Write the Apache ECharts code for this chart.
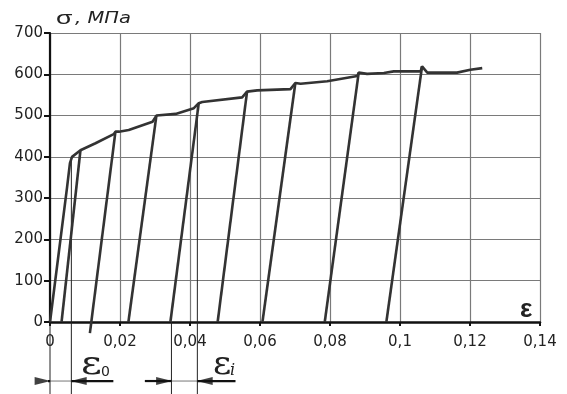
<!DOCTYPE html>
<html><head><meta charset="utf-8">
<script src="https://cdn.jsdelivr.net/npm/echarts@6/dist/echarts.min.js"></script>
<style>html,body{margin:0;padding:0;background:#fff}#c{width:567px;height:394px}</style>
</head><body><div id="c"></div>
<script>
// Tick labels
const xTickValues = [0, 0.02, 0.04, 0.06, 0.08, 0.1, 0.12, 0.14];
const xTickLabels = ['0', '0,02', '0,04', '0,06', '0,08', '0,1', '0,12', '0,14'];
const yTickLabels = ['0', '100', '200', '300', '400', '500', '600', '700'];

// Loading (envelope) curve: strain, stress (MPa)
const loadStrain = [0, 0.0049, 0.0057, 0.0063, 0.0087, 0.0130, 0.0182, 0.0187, 0.0197, 0.0225, 0.0293, 0.0304, 0.0359, 0.0411, 0.0425, 0.0435, 0.0549, 0.0563, 0.0592, 0.0687, 0.0701, 0.0716, 0.0792, 0.0878, 0.0882, 0.0906, 0.0954, 0.0982, 0.1059, 0.1063, 0.1078, 0.1163, 0.1201, 0.1235];
const loadStress = [0, 328, 385, 400, 416, 433, 455, 461, 461, 465, 485, 500, 504, 518, 530, 533, 544, 558, 561, 564, 579, 577, 583, 596, 604, 601, 603, 607, 607, 619, 604, 604, 611, 615];

// Unloading lines: top point -> end point
const unloadTopStrain = [0.0087, 0.0187, 0.0304, 0.0425, 0.0563, 0.0701, 0.0882, 0.1063];
const unloadTopStress = [416, 461, 500, 530, 558, 579, 604, 619];
const unloadEndStrain = [0.0033, 0.0114, 0.0224, 0.0344, 0.0479, 0.0607, 0.0785, 0.0961];
const unloadEndStress = [0, -27, 0, 0, 0, 0, 0, 0];

// Annotation (dimension lines below the axis)
const dimLineStrain = [0, 0.0061, 0.0347, 0.0421];
const dimLineTopStress = [0, 400, 0, 522];
const dimBottomStress = -176;
const arrowStress = -143;
const arrowTailStrain = [-0.0079, 0.0181, 0.0271, 0.0530];
const arrowTipStrain = [0, 0.0061, 0.0347, 0.0421];

const fmt = v => { const i = xTickValues.findIndex(t => Math.abs(t - v) < 1e-9); return i >= 0 ? xTickLabels[i] : ''; };
const curveColor = '#333';
const series = [];
series.push({type:'line', data: loadStrain.map((x,i)=>[x, loadStress[i]]), symbol:'none', lineStyle:{color:curveColor, width:2.6}, clip:false, z:5});
unloadTopStrain.forEach((x,i)=>{
  series.push({type:'line', data:[[x, unloadTopStress[i]], [unloadEndStrain[i], unloadEndStress[i]]], symbol:'none', lineStyle:{color:curveColor, width:2.6}, clip:false, z:5});
});
dimLineStrain.forEach((x,i)=>{
  series.push({type:'line', data:[[x, dimLineTopStress[i]], [x, dimBottomStress]], symbol:'none', lineStyle:{color:'#222', width:1}, clip:false, z:4});
});
// arrow shafts
arrowTailStrain.forEach((x,i)=>{
  series.push({type:'line', data:[[x, arrowStress], [arrowTipStrain[i], arrowStress]], symbol:'none', lineStyle:{color:'#111', width:2.2}, clip:false, z:4});
});
// thin line between arrow tips
series.push({type:'line', data:[[arrowTipStrain[0], arrowStress],[arrowTipStrain[1], arrowStress]], symbol:'none', lineStyle:{color:'#777', width:1}, clip:false});
series.push({type:'line', data:[[arrowTipStrain[2], arrowStress],[arrowTipStrain[3], arrowStress]], symbol:'none', lineStyle:{color:'#777', width:1}, clip:false});
// arrowheads
const headHalf = 0.0021;
series.push({type:'scatter', clip:false, z:6,
  data: arrowTipStrain.map((t,i)=>{
    const dir = Math.sign(t - arrowTailStrain[i]);
    return {value:[t - dir*headHalf, arrowStress], symbolRotate: dir > 0 ? -90 : 90};
  }),
  symbol:'triangle', symbolSize:[8,16], itemStyle:{color:'#111'}
});

const chart = echarts.init(document.getElementById('c'));
chart.setOption({
  animation:false,
  grid:{left:50, right:27, top:33, bottom:72},
  xAxis:{type:'value', min:0, max:0.14, interval:0.02,
    axisLine:{show:true, onZero:false, lineStyle:{color:'#111', width:2.5}},
    axisTick:{show:true, length:4, lineStyle:{color:'#111', width:2}},
    axisLabel:{formatter:fmt, fontSize:15, color:'#222', margin:13, fontFamily:'DejaVu Sans'},
    splitLine:{show:true, lineStyle:{color:'#7a7a7a', width:1.2}}},
  yAxis:{type:'value', min:0, max:700, interval:100,
    axisLine:{show:true, onZero:false, lineStyle:{color:'#111', width:2.2}},
    axisTick:{show:true, length:6, lineStyle:{color:'#111', width:2}},
    axisLabel:{formatter:v=>yTickLabels[Math.round(v/100)], fontSize:15, color:'#222', margin:7, fontFamily:'DejaVu Sans'},
    splitLine:{show:true, lineStyle:{color:'#7a7a7a', width:1.2}}},
  graphic:[
    {type:'text', x:56, y:19, scaleX:1.4, style:{text:'σ', fontSize:19, fontFamily:'Liberation Sans', fill:'#222', verticalAlign:'middle', textVerticalAlign:'middle'}},
    {type:'text', x:75, y:19, scaleX:1.3, style:{text:', МПа', fontSize:15, fontStyle:'italic', fontFamily:'DejaVu Sans', fill:'#222', verticalAlign:'middle', textVerticalAlign:'middle'}},
    {type:'text', x:520, y:310, style:{text:'ε', fontSize:26, fontWeight:'bold', fontFamily:'Liberation Sans', fill:'#222', verticalAlign:'middle', textVerticalAlign:'middle'}},
    {type:'text', x:81, y:366, scaleX:1.25, style:{text:'ε', fontSize:32, fontFamily:'DejaVu Serif', fill:'#222', verticalAlign:'middle', textVerticalAlign:'middle'}},
    {type:'text', x:101, y:372.5, style:{text:'0', fontSize:14, fontFamily:'DejaVu Sans', fill:'#222', verticalAlign:'middle', textVerticalAlign:'middle'}},
    {type:'text', x:213, y:366, scaleX:1.1, style:{text:'ε', fontSize:32, fontFamily:'DejaVu Serif', fill:'#222', verticalAlign:'middle', textVerticalAlign:'middle'}},
    {type:'text', x:230, y:371, style:{text:'i', fontSize:16, fontStyle:'italic', fontFamily:'DejaVu Serif', fill:'#222', verticalAlign:'middle', textVerticalAlign:'middle'}}
  ],
  series: series
});
</script></body></html>
